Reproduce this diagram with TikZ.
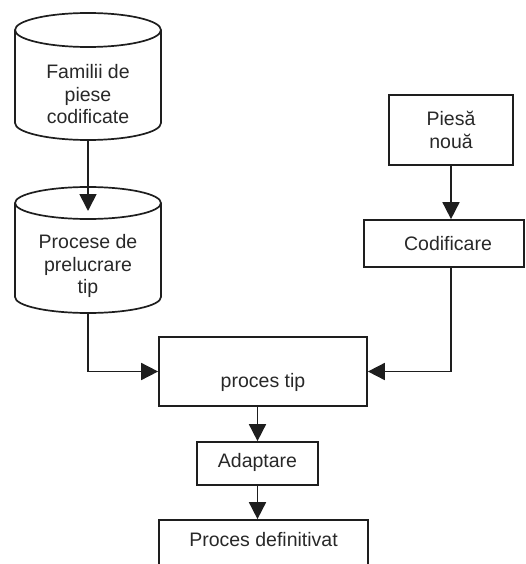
\documentclass[tikz,border=0pt]{standalone}
\usepackage{fontspec}
\setmainfont{Liberation Sans}
\usetikzlibrary{arrows.meta}
\definecolor{lineink}{RGB}{30,30,30}
\definecolor{textink}{RGB}{40,40,40}
\begin{document}
\begin{tikzpicture}[x=1pt,y=1pt,
  ink/.style={draw=lineink, line width=1.7pt},
  box/.style={ink, rectangle, inner sep=0pt},
  label/.style={text=textink, font=\fontsize{19.5}{22.5}\selectfont, align=center, inner sep=0pt},
  arrow/.style={ink, -{Triangle[width=17pt,length=17pt]}}]
\useasboundingbox (0,0) rectangle (526,-564);
\clip (0,0) rectangle (526,-564);

% store of part families (cylinder)
\draw[ink] (88,-30) ellipse [x radius=73, y radius=17];
\draw[ink] (15,-30) -- (15,-123) arc[start angle=180, end angle=360, x radius=73, y radius=17] -- (161,-30);
\node[label] (fam) at (88,-94.5) {Familii de\\piese\\codificate};
\coordinate (famBot) at (88,-140);

% store of typical processes (cylinder)
\draw[ink] (88,-203) ellipse [x radius=73, y radius=16];
\draw[ink] (15,-203) -- (15,-297) arc[start angle=180, end angle=360, x radius=73, y radius=16] -- (161,-203);
\node[label] (proc) at (88,-266) {Procese de\\prelucrare\\tip};
\coordinate (procIn) at (88,-211);
\coordinate (procBot) at (88,-313);

% new part and its coding
\node[box, minimum width=124, minimum height=70] (piesa) at (451,-130) {};
\node[label] (piesaTxt) at (451,-130) {Piesă\\nouă};
\node[box, minimum width=160, minimum height=47] (cod) at (444,-243.5) {};
\node[label] (codTxt) at (448,-243.5) {Codificare};

% typical process
\node[box, minimum width=208, minimum height=69] (tip) at (263,-371.5) {};
\node[label] (tipTxt) at (263,-382) {proces tip};

% adaptation and final process
\node[box, minimum width=121, minimum height=43] (adapt) at (257.5,-463.5) {};
\node[label] (adaptTxt) at (257.5,-462) {Adaptare};
\node[box, minimum width=209, minimum height=90] (def) at (263.5,-565) {};
\node[label] (defTxt) at (263.5,-540) {Proces definitivat};

% connectors
\draw[arrow] (famBot) -- (procIn);
\draw[arrow] (procBot) |- (tip.west);
\draw[arrow] (piesa.south) -- (piesa.south |- cod.north);
\draw[arrow] (piesa.south |- cod.south) |- (tip.east);
\draw[arrow] (adapt.north |- tip.south) -- (adapt.north);
\draw[arrow] (adapt.south) -- (adapt.south |- def.north);
\end{tikzpicture}
\end{document}
